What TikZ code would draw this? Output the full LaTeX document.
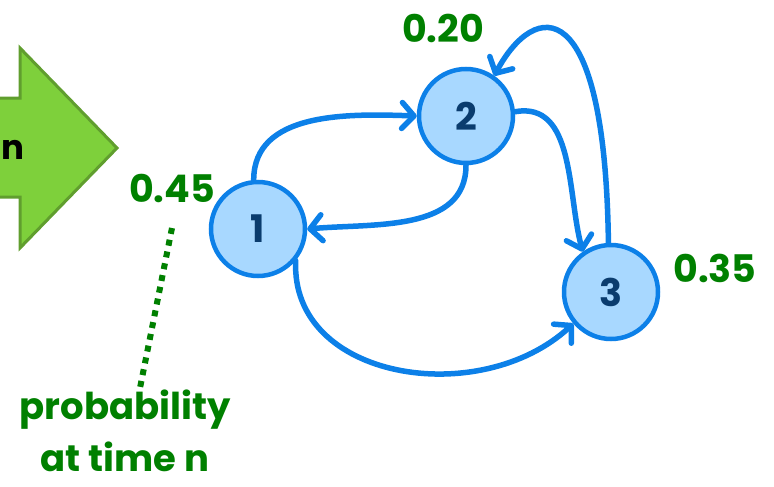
\documentclass[tikz,border=0pt]{standalone}
\usepackage{fontspec}
\setmainfont{Poppins}
\usetikzlibrary{arrows.meta}
\definecolor{edgeblue}{RGB}{12,128,232}
\definecolor{nodefill}{RGB}{168,216,255}
\definecolor{digitblue}{RGB}{10,60,110}
\definecolor{labgreen}{RGB}{0,128,0}
\definecolor{arrowfill}{RGB}{126,208,59}
\definecolor{arrowdraw}{RGB}{96,158,46}
\begin{document}
\begin{tikzpicture}[x=1pt,y=-1pt,
  state/.style={circle, draw=edgeblue, fill=nodefill, line width=4.5pt, minimum size=94pt, inner sep=0pt,
    text=digitblue, font=\fontsize{38}{40}\selectfont\bfseries},
  edge/.style={draw=edgeblue, line width=5.5pt, line cap=round,
    -{Straight Barb[length=12pt,width=26pt,line width=5.5pt,round]}},
  problab/.style={text=labgreen, font=\fontsize{38}{40}\selectfont\bfseries, inner sep=0pt},
  note/.style={text=labgreen, font=\fontsize{37}{52}\selectfont\bfseries, align=center, inner sep=0pt}]
\useasboundingbox (0,0) rectangle (774,487);
% big green arrow
\draw[fill=arrowfill, draw=arrowdraw, line width=3pt, line join=miter]
  (-10,98) -- (20,98) -- (20,48) -- (117,148) -- (20,248) -- (20,197) -- (-10,197) -- cycle;
\node[anchor=west, inner sep=0pt, font=\fontsize{34}{40}\selectfont\bfseries] (nlab) at (1,150) {n};
% states
\node[state] (n1) at (258,229) {1};
\node[state] (n2) at (466,116) {2};
\node[state] (n3) at (611,292) {3};
% probabilities
\node[problab] (p1) at (172,188) {0.45};
\node[problab] (p2) at (443,28) {0.20};
\node[problab] (p3) at (715,268) {0.35};
% edges
\draw[edge] (n1.95) to[out=90,in=178] (n2.west);
\draw[edge] (n2.270) to[out=270,in=5] (n1.east);
\draw[edge] (n2.5) to[out=10,in=105,looseness=1.0] (n3.125);
\draw[edge] (n3.93) .. controls (605,-10) and (535,0) .. (n2.55);
\draw[edge] (n1.-40) .. controls (290,380) and (480,410) .. (n3.220);
% note
\node[note] (note) at (125,431) {probability\\at time n};
\coordinate (dtop) at (172,228);
\coordinate (dbot) at (140,388);
\draw[labgreen, line width=6pt, dash pattern=on 6pt off 6pt] (dtop) -- (dbot);
\end{tikzpicture}
\end{document}
